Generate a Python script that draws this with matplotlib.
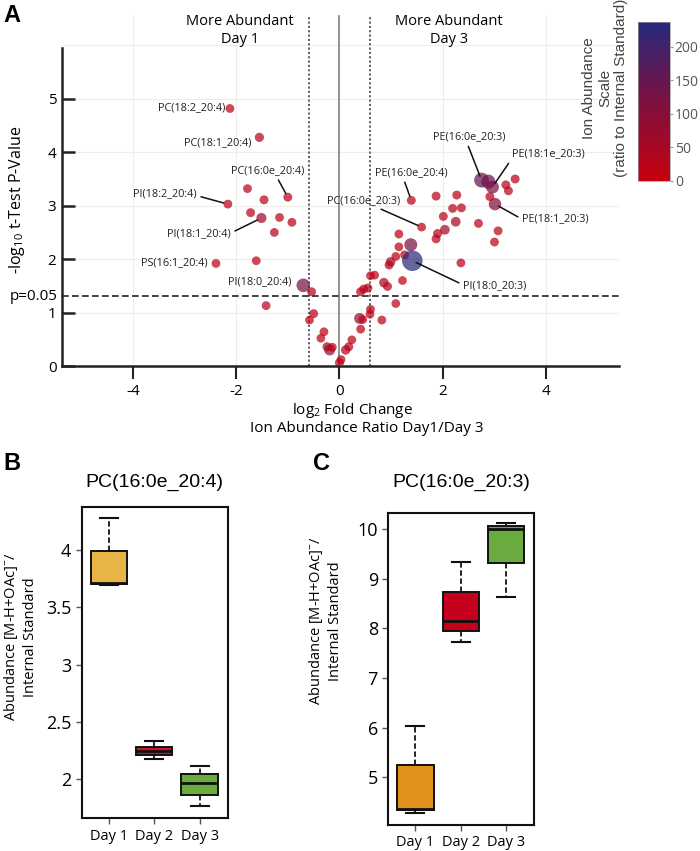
import numpy as np
import matplotlib
matplotlib.use("Agg")
import matplotlib.pyplot as plt
from matplotlib.colors import LinearSegmentedColormap, Normalize
from matplotlib.cm import ScalarMappable

plt.rcParams['font.family'] = ['Open Sans', 'DejaVu Sans']
plt.rcParams['mathtext.fontset'] = 'custom'
plt.rcParams['mathtext.rm'] = 'Open Sans'
plt.rcParams['mathtext.default'] = 'regular'

# ---- volcano data ----
log2_fc = [-2.12, -1.55, -1.00, -1.78, -1.46, -2.16, -1.72, -1.51, -1.16, -0.92,
           -1.26, -2.39, -1.61, -0.70, -0.54, -1.42, -0.50, -0.58, -0.30, -0.36,
           -0.24, -0.19, -0.14, 0.00, 0.03, 0.12, 0.18, 0.24, 0.41, 0.39,
           0.45, 0.60, 0.59, 0.82, 0.41, 0.47, 1.09, 0.68, 0.60, 0.86,
           0.93, 1.22, 0.99, 0.96, 1.09, 1.15, 1.26, 1.38, 1.41, 1.59,
           1.15, 1.39, 1.87, 2.27, 2.19, 2.36, 2.01, 2.25, 2.04, 1.90,
           1.87, 2.69, 3.07, 3.00, 2.35, 3.01, 2.75, 2.88, 2.96, 3.22,
           3.40, 3.27, 2.91, 0.55]
neg_log10_p = [4.82, 4.28, 3.16, 3.32, 3.11, 3.03, 2.87, 2.77, 2.78, 2.69,
               2.50, 1.92, 1.97, 1.51, 1.39, 1.13, 0.98, 0.86, 0.64, 0.52,
               0.36, 0.30, 0.35, 0.06, 0.12, 0.30, 0.36, 0.49, 0.69, 0.89,
               0.87, 1.06, 0.97, 0.86, 1.39, 1.44, 1.17, 1.70, 1.69, 1.56,
               1.49, 1.60, 1.95, 1.89, 2.05, 2.23, 2.08, 2.27, 1.97, 2.60,
               2.47, 3.10, 3.18, 3.20, 2.95, 2.96, 2.80, 2.70, 2.55, 2.48,
               2.38, 2.67, 2.53, 2.32, 1.93, 3.03, 3.48, 3.45, 3.35, 3.39,
               3.50, 3.28, 3.17, 1.46]
abundance = [20, 35, 25, 20, 25, 20, 25, 60, 20, 20,
             20, 20, 20, 130, 25, 20, 25, 15, 20, 15,
             30, 80, 25, 30, 15, 40, 25, 15, 20, 80,
             20, 20, 15, 20, 25, 25, 15, 20, 15, 45,
             25, 15, 45, 25, 20, 20, 20, 120, 230, 20,
             20, 25, 25, 25, 25, 25, 25, 50, 50, 30,
             25, 25, 20, 20, 20, 110, 150, 140, 120, 25,
             25, 25, 25, 25]

label_idx = [0, 1, 2, 5, 7, 11, 13, 48, 49, 51, 65, 66, 68]
label_names = ["PC(18:2_20:4)", "PC(18:1_20:4)", "PC(16:0e_20:4)", "PI(18:2_20:4)",
               "PI(18:1_20:4)", "PS(16:1_20:4)", "PI(18:0_20:4)", "PI(18:0_20:3)",
               "PC(16:0e_20:3)", "PE(16:0e_20:4)", "PE(18:1_20:3)", "PE(16:0e_20:3)",
               "PE(18:1e_20:3)"]

# ---- box plot data ----
days = ["Day 1", "Day 2", "Day 3"]
b_min = [3.69, 2.18, 1.77]
b_q1 = [3.70, 2.21, 1.86]
b_med = [3.71, 2.247, 1.97]
b_q3 = [3.99, 2.285, 2.045]
b_max = [4.28, 2.33, 2.12]

c_min = [4.29, 7.72, 8.63]
c_q1 = [4.35, 7.94, 9.32]
c_med = [4.36, 8.16, 10.01]
c_q3 = [5.24, 8.74, 10.06]
c_max = [6.03, 9.33, 10.13]

W, H = 700, 851
fig = plt.figure(figsize=(7, 8.51), dpi=100)

def fx(px):
    return px / W

def fy(py):
    return 1 - py / H

# ---------------- panel A ----------------
ax = fig.add_axes([fx(62), fy(366), fx(619 - 62), (366 - 15) / H])
ax.set_xlim(-5.37, 5.41)
ax.set_ylim(0, 6.57)

for gx in [-4, -2, 2, 4]:
    ax.axvline(gx, color='#ededed', lw=0.8, zorder=0)
for gy in [1, 2, 3, 4, 5, 6]:
    ax.axhline(gy, color='#ededed', lw=0.8, zorder=0)
ax.axvline(0, color='#8a8a8a', lw=1.3, ymax=6.55 / 6.57, zorder=1)
for vx in [-0.585, 0.585]:
    ax.axvline(vx, color='#555555', lw=1.3, ls=(0, (1.2, 1.2)), zorder=1)
ax.axhline(-np.log10(0.05), color='#222222', lw=1.2, ls=(0, (4, 2)), zorder=1)

cmap = LinearSegmentedColormap.from_list('ion', ['#c8000f', '#7c1040', '#262a7c'])
norm = Normalize(0, 237)
ab = np.array(abundance, dtype=float)
diam = 8.5 + 12 * (ab / 230) ** 1.5
sizes = (diam * 0.72) ** 2
ax.scatter(log2_fc, neg_log10_p, s=sizes, c=ab, cmap=cmap, norm=norm,
           alpha=0.72, edgecolors='none', zorder=3)

# label placement (text position, alignment, line start)
label_style = {
    "PC(18:2_20:4)": ((-2.21, 4.83), 'right', None),
    "PC(18:1_20:4)": ((-1.71, 4.18), 'right', None),
    "PC(16:0e_20:4)": ((-1.38, 3.66), 'center', (0.61, 0.0)),
    "PI(18:2_20:4)": ((-2.76, 3.23), 'right', (1.0, 0.3)),
    "PI(18:1_20:4)": ((-2.10, 2.47), 'right', (1.0, 0.6)),
    "PS(16:1_20:4)": ((-2.56, 1.93), 'right', None),
    "PI(18:0_20:4)": ((-0.92, 1.57), 'right', None),
    "PI(18:0_20:3)": ((2.39, 1.50), 'left', (0.0, 0.6)),
    "PC(16:0e_20:3)": ((1.17, 3.10), 'right', (0.64, 0.0)),
    "PE(16:0e_20:4)": ((1.39, 3.62), 'center', (0.39, 0.0)),
    "PE(18:1_20:3)": ((3.53, 2.75), 'left', (0.0, 0.5)),
    "PE(16:0e_20:3)": ((2.52, 4.29), 'center', (0.46, 0.0)),
    "PE(18:1e_20:3)": ((3.34, 3.97), 'left', (0.0, 0.1)),
}
for i, name in zip(label_idx, label_names):
    txy, ha, rel = label_style[name]
    kw = {}
    if rel is not None:
        kw['arrowprops'] = dict(arrowstyle='-', color='#111111', lw=1.1,
                                relpos=rel, shrinkA=1, shrinkB=3)
    ax.annotate(name, xy=(log2_fc[i], neg_log10_p[i]), xytext=txy,
                ha=ha, va='center', fontsize=7.8, color='#222222', zorder=4, **kw)

for s in ['top', 'right']:
    ax.spines[s].set_visible(False)
ax.spines['left'].set_bounds(0, 5.95)
ax.spines['left'].set_linewidth(1.8)
ax.spines['bottom'].set_linewidth(1.8)
ax.spines['left'].set_color('#222222')
ax.spines['bottom'].set_color('#222222')
ax.set_yticks([0, 1, 2, 3, 4, 5])
ax.set_xticks([-4, -2, 0, 2, 4])
ax.set_xticklabels(['-4', '-2', '0', '2', '4'])
ax.tick_params(axis='y', direction='in', length=9, width=1.8, pad=4,
               labelsize=11, color='#222222')
ax.tick_params(axis='x', direction='out', length=9, width=1.5, pad=4,
               labelsize=11, color='#222222')
ax.annotate('p=0.05', xy=(0, -np.log10(0.05)), xycoords=('axes fraction', 'data'),
            xytext=(-3, 0), textcoords='offset points', ha='right', va='center',
            fontsize=11)

ax.text(-1.92, 6.28, "More Abundant\nDay 1", ha='center', va='center',
        fontsize=10.5, linespacing=1.25)
ax.text(2.12, 6.28, "More Abundant\nDay 3", ha='center', va='center',
        fontsize=10.5, linespacing=1.25)

fig.text(fx(17), fy(200), r"-log$_{10}$ t-Test P-Value", rotation=90,
         ha='center', va='center', fontsize=11.5)
fig.text(fx(352), fy(410), r"log$_2$ Fold Change", ha='center', va='center', fontsize=11)
fig.text(fx(367), fy(428), "Ion Abundance Ratio Day1/Day 3", ha='center',
         va='center', fontsize=11)

cax = fig.add_axes([fx(638), fy(181), fx(32), 159 / H])
cb = fig.colorbar(ScalarMappable(norm=norm, cmap=cmap), cax=cax)
cb.set_ticks([0, 50, 100, 150, 200])
cb.outline.set_linewidth(0.5)
cb.outline.set_edgecolor('#999999')
cax.tick_params(labelsize=10, labelcolor='#555555', color='#999999', length=2, pad=1.5)
fig.text(fx(605), fy(88), "Ion Abundance\nScale\n(ratio to Internal Standard)",
         rotation=90, ha='center', va='center', multialignment='center',
         fontsize=11, color='#444444', family=['Liberation Sans'])

# ---------------- panels B & C ----------------
def box_panel(rect, title, mins, q1s, meds, q3s, maxs, colors, ylim, yticks,
              yticklabels, title_pad):
    bx = fig.add_axes(rect)
    stats = []
    for lo, a, m, b, hi in zip(mins, q1s, meds, q3s, maxs):
        stats.append(dict(whislo=lo, q1=a, med=m, q3=b, whishi=hi, fliers=[]))
    parts = bx.bxp(stats, positions=[1, 2, 3], widths=0.8, patch_artist=True,
                   showfliers=False, capwidths=0.4,
                   boxprops=dict(edgecolor='#111111', linewidth=1.4),
                   whiskerprops=dict(color='#111111', linewidth=1.3, linestyle=(0, (3, 1.5))),
                   capprops=dict(color='#111111', linewidth=1.5),
                   medianprops=dict(color='#111111', linewidth=2))
    for patch, col in zip(parts['boxes'], colors):
        patch.set_facecolor(col)
    bx.set_xlim(0.4, 3.62)
    bx.set_ylim(*ylim)
    bx.set_yticks(yticks)
    bx.set_yticklabels(yticklabels)
    bx.set_xticks([1, 2, 3])
    bx.set_xticklabels(days)
    for s in bx.spines.values():
        s.set_linewidth(1.5)
        s.set_color('#111111')
    bx.tick_params(axis='y', labelsize=13, length=4, width=1, color='#555555')
    bx.tick_params(axis='x', labelsize=10.5, length=4, width=1, color='#555555')
    bx.set_title(title, fontsize=14, pad=title_pad, family=['Liberation Sans'])
    return bx

box_panel([fx(81.7), fy(818.3), fx(146), 311 / H], "PC(16:0e_20:4)",
          b_min, b_q1, b_med, b_q3, b_max, ['#e8b445', '#cc1424', '#6aab3c'],
          (1.66, 4.37), [2, 2.5, 3, 3.5, 4], ['2', '2.5', '3', '3.5', '4'], 15)
box_panel([fx(388.3), fy(825), fx(145.7), 311.7 / H], "PC(16:0e_20:3)",
          c_min, c_q1, c_med, c_q3, c_max, ['#df931c', '#c5001a', '#6aab3f'],
          (4.04, 10.32), [5, 6, 7, 8, 9, 10], ['5', '6', '7', '8', '9', '10'], 19)

ylab = "Abundance [M-H+OAc]$^{-}$/\nInternal Standard"
fig.text(fx(20), fy(637), ylab, rotation=90, ha='center', va='center',
         multialignment='center', fontsize=10.5, linespacing=1.3)
fig.text(fx(325), fy(621), ylab, rotation=90, ha='center', va='center',
         multialignment='center', fontsize=10.5, linespacing=1.3)

for letter, x, y in [('A', 3, 15), ('B', 3, 463), ('C', 313, 463)]:
    fig.text(fx(x), fy(y), letter, ha='left', va='center', fontsize=17,
             fontweight='bold', family=['Liberation Sans'])

fig.savefig("out.png", dpi=100)
